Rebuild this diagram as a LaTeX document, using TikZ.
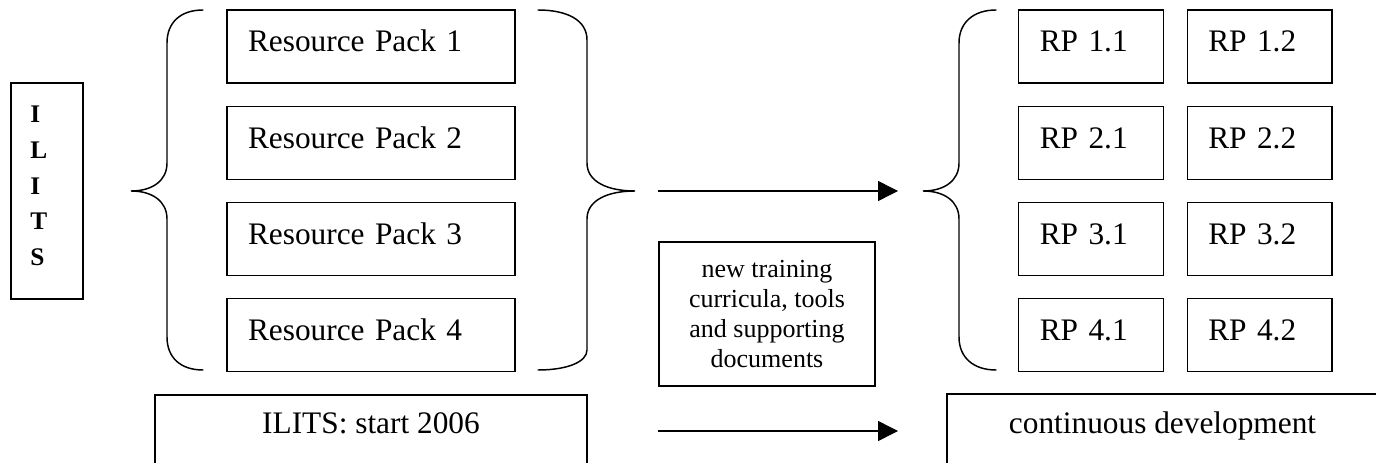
\documentclass[tikz,border=0pt]{standalone}
\usepackage{fontspec}
\setmainfont{Liberation Serif}
\usetikzlibrary{arrows.meta}
\tikzset{
  lw/.style={line width=1.1pt},
  bigbox/.style={draw, lw, minimum width=216pt, minimum height=54.75pt, text width=184.5pt, inner xsep=15.75pt, align=left, text height=8.25pt, text depth=0pt, font=\fontsize{23.5}{27}\selectfont},
  smallbox/.style={draw, lw, minimum width=108.4pt, minimum height=54.75pt, text width=76.9pt, inner xsep=15.75pt, align=left, text height=8.25pt, text depth=0pt, font=\fontsize{23.5}{27}\selectfont},
  brace/.style={lw, line cap=round},
  arrow/.style={lw, -{Triangle[length=15pt,width=15pt]}},
}
\begin{document}
\begin{tikzpicture}[x=0.75pt,y=-0.75pt]
\useasboundingbox (0,0) rectangle (1376,463);
\clip (0,0) rectangle (1376,463);
% ILITS vertical box
\node[draw, lw, minimum width=54pt, minimum height=162pt] (ilits) at (47,191) {};
\node[anchor=north west, inner sep=0pt, align=left, font=\fontsize{19}{26.7}\selectfont\bfseries] (ilitstext) at (30,106) {I\\L\\I\\T\\S};
% left brace
\draw[brace] (203,10) .. controls (181,10) and (167,22) .. (167,43) -- (167,163) .. controls (167,181) and (152,191) .. (131,191) .. controls (152,191) and (167,201) .. (167,219) -- (167,337) .. controls (167,358) and (181,370) .. (203,370);
% resource packs
\node[bigbox] (rp1) at (371,46.5) {Resource Pack 1};
\node[bigbox] (rp2) at (371,143) {Resource Pack 2};
\node[bigbox] (rp3) at (371,239) {Resource Pack 3};
\node[bigbox] (rp4) at (371,335) {Resource Pack 4};
% right brace of resource packs
\draw[brace] (538,10) .. controls (567,10) and (587,20) .. (587,40) -- (587,163) .. controls (587,182) and (608,191) .. (635,191) .. controls (608,191) and (587,200) .. (587,219) -- (587,350) .. controls (587,362) and (567,370) .. (538,370);
\coordinate (lbtip) at (635,191);
% brace before RP grid
\draw[brace] (996,10) .. controls (974,10) and (959,22) .. (959,43) -- (959,163) .. controls (959,181) and (944,191) .. (923,191) .. controls (944,191) and (959,201) .. (959,219) -- (959,337) .. controls (959,358) and (974,370) .. (996,370);
\coordinate (rbtip) at (923,191);
% RP grid
\node[smallbox] (rp11) at (1091,46.5) {RP 1.1};
\node[smallbox] (rp12) at (1259.5,46.5) {RP 1.2};
\node[smallbox] (rp21) at (1091,143) {RP 2.1};
\node[smallbox] (rp22) at (1259.5,143) {RP 2.2};
\node[smallbox] (rp31) at (1091,239) {RP 3.1};
\node[smallbox] (rp32) at (1259.5,239) {RP 3.2};
\node[smallbox] (rp41) at (1091,335) {RP 4.1};
\node[smallbox] (rp42) at (1259.5,335) {RP 4.2};
% top arrow
\draw[arrow, shorten <=17.25pt, shorten >=18.75pt] (lbtip) -- (rbtip);
% middle box
\node[draw, lw, minimum width=162pt, minimum height=108pt, align=center, font=\fontsize{19.5}{22.5}\selectfont] (mid) at (767,314) {new training\\curricula, tools\\and supporting\\documents};
% bottom boxes
\node[draw, lw, minimum width=324pt, minimum height=75pt, text height=0pt, text depth=18pt, font=\fontsize{23.5}{27}\selectfont] (start) at (371,445) {ILITS: start 2006};
\node[draw, lw, minimum width=323.25pt, minimum height=75pt, text height=0pt, text depth=16.5pt, font=\fontsize{23.5}{27}\selectfont] (cont) at (1162.5,444) {continuous development};
% bottom arrow
\coordinate (b1) at (658,431);
\coordinate (b2) at (898,431);
\draw[arrow] (b1) -- (b2);
\end{tikzpicture}
\end{document}
